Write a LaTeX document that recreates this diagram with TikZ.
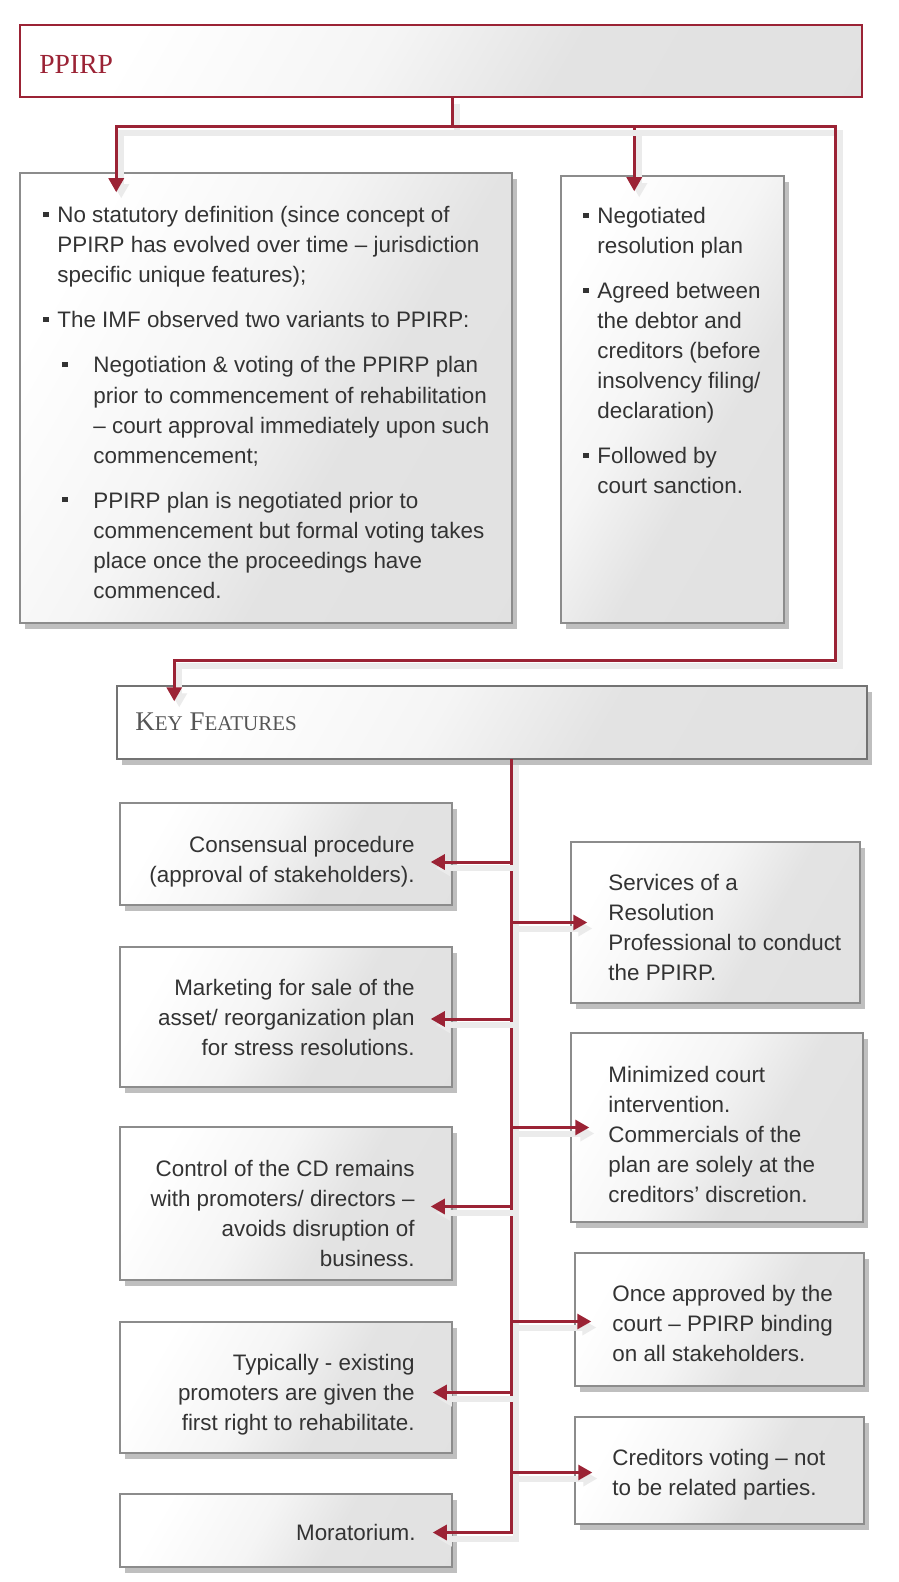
\documentclass[tikz,border=0pt]{standalone}
\usepackage{fontspec}
\setmainfont{Liberation Sans}
\newfontfamily\headfont{Liberation Serif}
\usetikzlibrary{arrows.meta,fit,shadows}
\definecolor{kred}{HTML}{9B2335}
\definecolor{ktext}{HTML}{333333}
\definecolor{kgrey}{HTML}{555555}
\pgfdeclarehorizontalshading{boxshade}{100bp}{color(0bp)=(white); color(25bp)=(white); color(45bp)=(black!4); color(60bp)=(black!11); color(100bp)=(black!12)}
\newcommand\bul{\makebox[7pt][l]{\rule[3pt]{2.6pt}{2.6pt}}}
\newcommand\sbul{\hspace*{9.5pt}\makebox[15.5pt][l]{\rule[3pt]{2.6pt}{2.6pt}}}
\newcommand\ind{\hspace*{7pt}}
\newcommand\sind{\hspace*{25pt}}
\begin{document}
\begin{tikzpicture}[x=0.5pt,y=-0.5pt,
    head/.style={draw=kred,line width=0.75pt,shading=boxshade,shading angle=-30,inner sep=0pt},
    fbox/.style={draw=black!45,line width=0.75pt,shading=boxshade,shading angle=-30,inner sep=0pt,
      drop shadow={shadow xshift=2.5pt,shadow yshift=-3pt,fill=black!55,opacity=0.45}},
    ftext/.style={inner sep=0pt,text=ktext,font=\fontsize{11.2}{15}\selectfont},
    rline/.style={draw=kred,line width=1.5pt,
      preaction={draw=black!8,line width=3pt,transform canvas={shift={(2.5pt,-3pt)}}}},
    rarrow/.style={rline,-{Triangle[width=7.5pt,length=7pt]}}]
    \path[use as bounding box,fill=white] (0,0) rectangle (898,1582);

    \node[head,fit={(20,25) (862,97)}] (ppirp) {};
    \node[inner sep=0pt,anchor=base west,text=kred,font=\headfont\fontsize{13.8}{16}\selectfont] (ppirpt) at (39,74) {PPIRP};

    \node[fbox,fit={(20,173) (512,623)}] (def) {};
    \node[ftext,align=left,anchor=base west] (deft) at (43,598) {%
      \bul No statutory definition (since concept of\\
      \ind PPIRP has evolved over time – jurisdiction\\
      \ind specific unique features);\\[7.5pt]
      \bul The IMF observed two variants to PPIRP:\\[7.5pt]
      \sbul Negotiation \& voting of the PPIRP plan\\
      \sind prior to commencement of rehabilitation\\
      \sind – court approval immediately upon such\\
      \sind commencement;\\[7.5pt]
      \sbul PPIRP plan is negotiated prior to\\
      \sind commencement but formal voting takes\\
      \sind place once the proceedings have\\
      \sind commenced.};

    \node[fbox,fit={(561,176) (784,623)}] (var) {};
    \node[ftext,align=left,anchor=base west] (vart) at (583,494) {%
      \bul Negotiated\\
      \ind resolution plan\\[7.5pt]
      \bul Agreed between\\
      \ind the debtor and\\
      \ind creditors (before\\
      \ind insolvency filing/\\
      \ind declaration)\\[7.5pt]
      \bul Followed by\\
      \ind court sanction.};

    \node[fbox,draw=black!55,fit={(117,686) (867,759)}] (key) {};
    \node[inner sep=0pt,anchor=base west,text=kgrey,font=\headfont\fontsize{13.5}{16}\selectfont] (keyt) at (135,730) {K{\fontsize{10.5}{12}\selectfont EY} F{\fontsize{10.5}{12}\selectfont EATURES}};

    \node[fbox,fit={(120,803) (452,905)}] (cons) {};
    \node[fbox,fit={(120,947) (452,1087)}] (mark) {};
    \node[fbox,fit={(120,1127) (452,1280)}] (ctrl) {};
    \node[fbox,fit={(120,1322) (452,1453)}] (typ) {};
    \node[fbox,fit={(120,1494) (452,1567)}] (mora) {};
    \node[fbox,fit={(571,842) (860,1003)}] (serv) {};
    \node[fbox,fit={(571,1033) (863,1222)}] (mini) {};
    \node[fbox,fit={(575,1253) (864,1386)}] (once) {};
    \node[fbox,fit={(575,1417) (864,1524)}] (cred) {};

    \node[ftext,align=right,anchor=base east] (const) at (415,882) {Consensual procedure\\(approval of stakeholders).};
    \node[ftext,align=right,anchor=base east] (markt) at (415,1055) {Marketing for sale of the\\asset/ reorganization plan\\for stress resolutions.};
    \node[ftext,align=right,anchor=base east] (ctrlt) at (415,1266) {Control of the CD remains\\with promoters/ directors –\\avoids disruption of\\business.};
    \node[ftext,align=right,anchor=base east] (typt) at (415,1430) {Typically - existing\\promoters are given the\\first right to rehabilitate.};
    \node[ftext,align=right,anchor=base east] (morat) at (416,1540) {Moratorium.};
    \node[ftext,align=left,anchor=base west] (servt) at (608,980) {Services of a\\Resolution\\Professional to conduct\\the PPIRP.};
    \node[ftext,align=left,anchor=base west] (minit) at (608,1202) {Minimized court\\intervention.\\Commercials of the\\plan are solely at the\\creditors’ discretion.};
    \node[ftext,align=left,anchor=base west] (oncet) at (612,1361) {Once approved by the\\court – PPIRP binding\\on all stakeholders.};
    \node[ftext,align=left,anchor=base west] (credt) at (612,1495) {Creditors voting – not\\to be related parties.};

    \coordinate (hub) at (452,127);
    \coordinate (turn) at (835,660);
    \coordinate (trunk) at (511,759);
    \draw[rline] (ppirp.south -| hub) -- (hub);
    \draw[rarrow] (hub) -| ([shift={(97,20)}]def.north west);
    \draw[rarrow] (hub) -| ([shift={(74,16)}]var.north west);
    \draw[rarrow] (hub) -| (turn) -| ([shift={(58,16)}]key.north west);

    \draw[rarrow] (trunk) |- ([shift={(-10pt,-1pt)}]mora.east);
    \draw[rarrow] ([yshift=-4pt]trunk |- cons.east) -- ([shift={(-11pt,-4pt)}]cons.east);
    \draw[rarrow] ([yshift=-1pt]trunk |- mark.east) -- ([shift={(-11pt,-1pt)}]mark.east);
    \draw[rarrow] ([yshift=-1.5pt]trunk |- ctrl.east) -- ([shift={(-11pt,-1.5pt)}]ctrl.east);
    \draw[rarrow] ([yshift=-2.5pt]trunk |- typ.east) -- ([shift={(-10pt,-2.5pt)}]typ.east);
    \draw[rarrow] (trunk |- serv.west) -- ([xshift=8.5pt]serv.west);
    \draw[rarrow] (trunk |- mini.west) -- ([xshift=9.5pt]mini.west);
    \draw[rarrow] ([yshift=-1pt]trunk |- once.west) -- ([shift={(8.5pt,-1pt)}]once.west);
    \draw[rarrow] ([yshift=-1pt]trunk |- cred.west) -- ([shift={(9pt,-1pt)}]cred.west);
\end{tikzpicture}
\end{document}
